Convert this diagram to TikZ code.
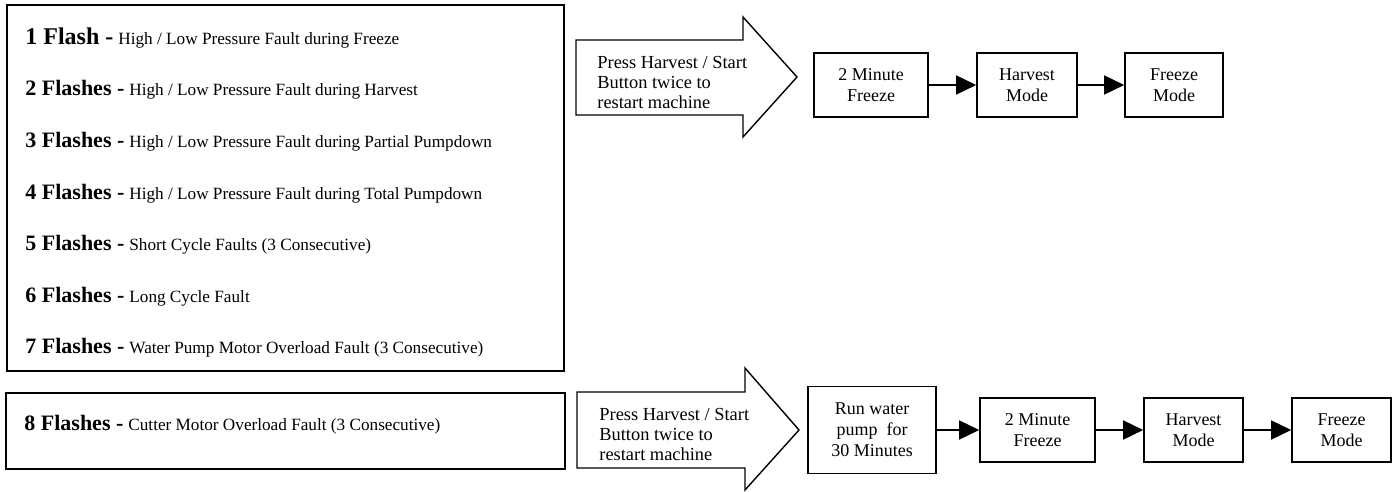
\documentclass[tikz,border=0pt]{standalone}
\usepackage{fontspec}
\setmainfont{Liberation Serif}
\usetikzlibrary{arrows.meta}

\tikzset{
  faultrow/.style={anchor=base west, inner sep=0pt},
  stagebox/.style={draw, line width=0.8pt, align=center, inner sep=0pt,
    minimum height=32pt, font=\fontsize{9}{10.5}\selectfont},
  flow/.style={-{Triangle[length=10pt,width=9.5pt]}, line width=0.8pt},
  pressarrow/.style={draw, line width=0.7pt, line join=miter},
  presstext/.style={anchor=west, align=left, inner sep=0pt,
    font=\fontsize{9.2}{10}\selectfont},
}
\newcommand{\flashcount}[2]{{\fontsize{11}{13}\selectfont\bfseries #1 -} {\fontsize{8.6}{10}\selectfont #2}}

\begin{document}
\begin{tikzpicture}[x=0.5pt,y=-0.5pt]
        \useasboundingbox (0,0) rectangle (1399,492);

        % Cuadro de fallas 1 a 7
        \draw[line width=1pt] (7,5) rectangle (564,371);
        \node[faultrow] (f1) at (25,45) {{\fontsize{12}{14}\selectfont\bfseries 1 Flash -} {\fontsize{8.6}{10}\selectfont High / Low Pressure Fault during Freeze}};
        \node[faultrow] (f2) at (25,96) {\flashcount{2 Flashes}{High / Low Pressure Fault during Harvest}};
        \node[faultrow] (f3) at (25,148) {\flashcount{3 Flashes}{High / Low Pressure Fault during Partial Pumpdown}};
        \node[faultrow] (f4) at (25,199) {\flashcount{4 Flashes}{High / Low Pressure Fault during Total Pumpdown}};
        \node[faultrow] (f5) at (25,250) {\flashcount{5 Flashes}{Short Cycle Faults (3 Consecutive)}};
        \node[faultrow] (f6) at (25,302) {\flashcount{6 Flashes}{Long Cycle Fault}};
        \node[faultrow] (f7) at (25,353) {\flashcount{7 Flashes}{Water Pump Motor Overload Fault (3 Consecutive)}};

        % Cuadro de falla 8
        \draw[line width=1pt] (6,393) rectangle (565,469);
        \node[faultrow] (f8) at (24,430) {\flashcount{8 Flashes}{Cutter Motor Overload Fault (3 Consecutive)}};

        % Flecha superior
        \draw[pressarrow] (576,40) -- (743,40) -- (743,17) -- (797,77) -- (743,137) -- (743,115) -- (576,115) -- cycle;
        \node[presstext] (press1) at (597,82) {Press Harvest / Start\\Button twice to\\restart machine};

        % Secuencia superior
        \node[stagebox, minimum width=57pt] (fz1) at (871,85) {2 Minute\\Freeze};
        \node[stagebox, minimum width=50pt] (hv1) at (1027,85) {Harvest\\Mode};
        \node[stagebox, minimum width=49pt] (fr1) at (1174,85) {Freeze\\Mode};
        \draw[flow] (fz1) -- (hv1);
        \draw[flow] (hv1) -- (fr1);

        % Flecha inferior
        \draw[pressarrow] (577,392) -- (745,392) -- (745,368) -- (799,430) -- (745,490) -- (745,468) -- (577,468) -- cycle;
        \node[presstext] (press2) at (599,434) {Press Harvest / Start\\Button twice to\\restart machine};

        % Secuencia inferior
        \node[stagebox, minimum width=64pt, minimum height=43.5pt] (run) at (872,430) {Run water\\pump~ for\\30 Minutes};
        \node[stagebox, minimum width=57.5pt] (fz2) at (1037.5,430) {2 Minute\\Freeze};
        \node[stagebox, minimum width=49.5pt] (hv2) at (1193.5,430) {Harvest\\Mode};
        \node[stagebox, minimum width=49.5pt] (fr2) at (1341.5,430) {Freeze\\Mode};
        \draw[flow] (run) -- (fz2);
        \draw[flow] (fz2) -- (hv2);
        \draw[flow] (hv2) -- (fr2);
\end{tikzpicture}
\end{document}
